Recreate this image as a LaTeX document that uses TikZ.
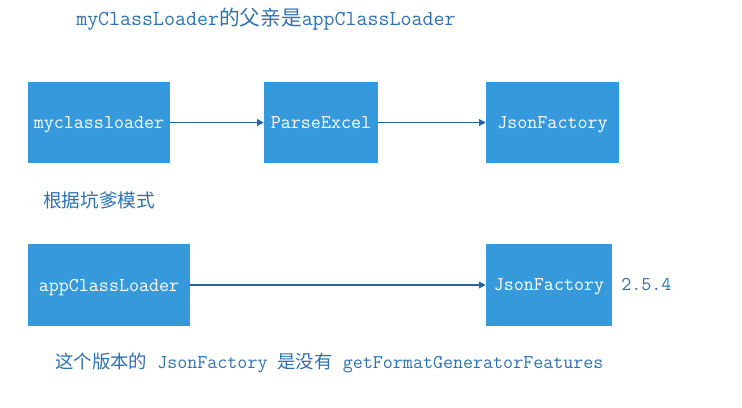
\documentclass[tikz,border=0pt]{standalone}
\usepackage{fontspec}
\usetikzlibrary{arrows.meta}
\setmainfont{Latin Modern Mono}
\newfontfamily\cjk{Noto Sans CJK SC}
\definecolor{boxblue}{RGB}{54,153,219}
\definecolor{textblue}{RGB}{46,112,176}
\definecolor{lineblue}{RGB}{36,100,160}
\tikzset{
  loaderbox/.style={fill=boxblue, draw=none, text=white, minimum height=61pt,
    font=\fontsize{14.6pt}{15pt}\selectfont, inner sep=0pt, text depth=0pt},
  note/.style={anchor=west, text=textblue, inner sep=0pt,
    font=\fontsize{14.6pt}{15pt}\selectfont},
  link/.style={draw=lineblue, line width=0.9pt, -{Triangle[length=5pt,width=5pt]}}
}
\begin{document}
\begin{tikzpicture}[x=0.75pt,y=-0.75pt]
  \useasboundingbox (0,0) rectangle (742,407);
  % top row
  \node[loaderbox, minimum width=106.5pt] (mcl) at (99,122.5) {myclassloader};
  \node[loaderbox, minimum width=85.5pt] (parse) at (321,122.5) {ParseExcel};
  \node[loaderbox, minimum width=99.75pt] (jf1) at (552.5,122.5) {JsonFactory};
  \draw[link] (mcl) -- (parse);
  \draw[link] (parse) -- (jf1);
  % bottom row
  \node[loaderbox, minimum width=121.5pt] (acl) at (109,285) {appClassLoader};
  \node[loaderbox, minimum width=94.5pt] (jf2) at (549,285) {JsonFactory};
  \draw[link] (acl) -- (jf2);
  % notes
  \node[note, font=\fontsize{16pt}{17pt}\selectfont] (title) at (76,19)
    {myClassLoader{\cjk\fontsize{15.5pt}{16pt}\selectfont 的父亲是}appClassLoader};
  \node[note, font=\cjk\fontsize{14pt}{15pt}\selectfont] (mode) at (43,200) {根据坑爹模式};
  \node[note] (ver) at (621,285) {2.5.4};
  \node[note] (remark) at (55,363)
    {{\cjk\fontsize{13.8pt}{15pt}\selectfont 这个版本的} JsonFactory {\cjk\fontsize{13.8pt}{15pt}\selectfont 是没有} getFormatGeneratorFeatures};
\end{tikzpicture}
\end{document}
